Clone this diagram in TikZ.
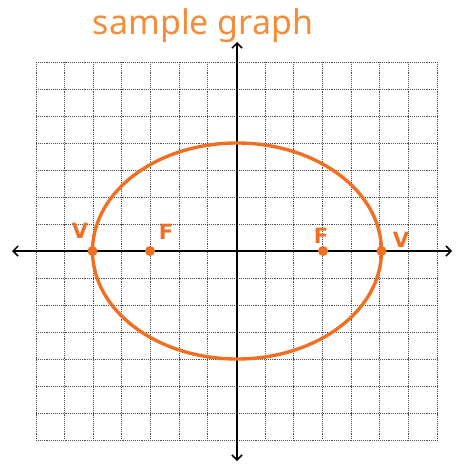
\documentclass[tikz,border=0pt]{standalone}
\usepackage{fontspec}
\setmainfont{Noto Sans}
\newfontfamily\labfont{DejaVu Sans}
\usetikzlibrary{arrows.meta}
\definecolor{curve}{RGB}{240,112,35}
\definecolor{titlec}{RGB}{245,140,55}
\tikzset{
  gridline/.style={black!70, densely dotted, line width=0.9pt},
  axisline/.style={black, line width=1.5pt, {Straight Barb[length=5pt,width=10pt]}-{Straight Barb[length=5pt,width=10pt]}},
  conic/.style={curve, line width=3.4pt},
  pt/.style={circle, fill=curve, inner sep=0pt, minimum size=10pt},
  lab/.style={text=curve, font=\labfont\bfseries\fontsize{21}{21}\selectfont, inner sep=0pt},
}
\begin{document}
\begin{tikzpicture}[x=1pt,y=-1pt]
\useasboundingbox (0,0) rectangle (459,466);
% grid
\foreach \i in {0,...,14} {
  \draw[gridline] ({36+\i*28.643},62) -- ({36+\i*28.643},440);
  \draw[gridline] (36,{62+\i*27}) -- (437,{62+\i*27});
}
% axes
\coordinate (xl) at (12,251);
\coordinate (xr) at (452,251);
\coordinate (yt) at (237,42);
\coordinate (yb) at (237,461);
\draw[axisline] (xl) -- (xr);
\draw[axisline] (yb) -- (yt);
% ellipse
\coordinate (c) at (237,251);
\draw[conic] (c) ellipse [x radius=144.5, y radius=108];
% points
\node[pt] (v1) at (92.5,251) {};
\node[pt] (f1) at (150,251) {};
\node[pt] (f2) at (323,251) {};
\node[pt] (v2) at (381.5,251) {};
% labels
\node[lab] (lv1) at (80,231) {V};
\node[lab] (lf1) at (166,232) {F};
\node[lab] (lf2) at (321,236) {F};
\node[lab] (lv2) at (401,240) {V};
% title
\node[text=titlec, font=\fontsize{34}{34}\selectfont, inner sep=0pt] (title) at (203,26) {sample graph};
\end{tikzpicture}
\end{document}
